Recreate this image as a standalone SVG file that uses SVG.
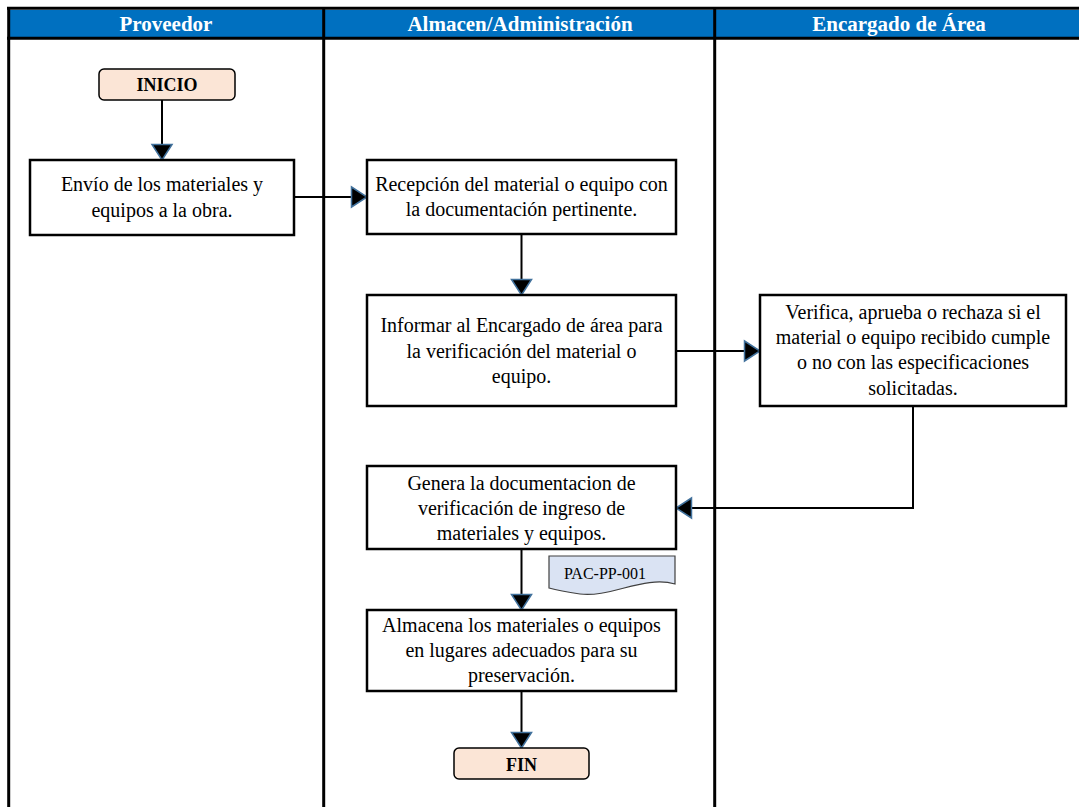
<svg xmlns="http://www.w3.org/2000/svg" width="1079" height="807" viewBox="0 0 1079 807">
<style>
.lane{stroke:#000;stroke-width:3;fill:none}
.hdr{font-family:"Liberation Serif",serif;font-weight:bold;font-size:21px;fill:#fff;text-anchor:middle}
.box{fill:#fff;stroke:#000;stroke-width:2.5}
.term{fill:#FBE5D6;stroke:#000;stroke-width:1.5}
.t{font-family:"Liberation Serif",serif;font-size:20px;fill:#000;text-anchor:middle}
.tb{font-family:"Liberation Serif",serif;font-weight:bold;font-size:18px;fill:#000;text-anchor:middle}
.c{stroke:#000;stroke-width:2;fill:none;marker-end:url(#arr)}
</style>
<defs>
<marker id="arr" markerUnits="userSpaceOnUse" viewBox="0 0 20 24" markerWidth="20" markerHeight="24" refX="17" refY="12" orient="auto">
<path d="M1.5,2 L17,12 L1.5,22 Z" fill="#000" stroke="#41719C" stroke-width="1.5"/>
</marker>
</defs>
<rect x="0" y="0" width="1079" height="807" fill="#fff"/>
<g id="header">
<rect x="8" y="10" width="1071" height="27" fill="#0070C0"/>
<line class="lane" x1="7" y1="8.3" x2="1079" y2="8.3"/>
<line class="lane" x1="7" y1="38.3" x2="1079" y2="38.3"/>
<line class="lane" x1="8.7" y1="7" x2="8.7" y2="807"/>
<line class="lane" x1="323.7" y1="7" x2="323.7" y2="807"/>
<line class="lane" x1="714.7" y1="7" x2="714.7" y2="807"/>
<text class="hdr" x="166" y="31">Proveedor</text>
<text class="hdr" x="520" y="31">Almacen/Administración</text>
<text class="hdr" x="899" y="31">Encargado de Área</text>
</g>
<g id="connectors">
<path class="c" d="M162,100 V160"/>
<path class="c" d="M294,197 H367"/>
<path class="c" d="M521.5,234 V295"/>
<path class="c" d="M676,351 H760"/>
<path class="c" d="M913,406 V508 H676"/>
<path class="c" d="M521.5,549 V610"/>
<path class="c" d="M521.5,691 V748"/>
</g>
<g id="inicio">
<rect class="term" x="99" y="69" width="136" height="31" rx="5"/>
<text class="tb" x="167" y="91">INICIO</text>
</g>
<g id="envio">
<rect class="box" x="30" y="160" width="264" height="75"/>
<text class="t" x="162" y="191">Envío de los materiales y</text>
<text class="t" x="162" y="217">equipos a la obra.</text>
</g>
<g id="recepcion">
<rect class="box" x="367" y="160" width="309" height="74"/>
<text class="t" x="521.5" y="190.5">Recepción del material o equipo con</text>
<text class="t" x="521.5" y="216">la documentación pertinente.</text>
</g>
<g id="informar">
<rect class="box" x="367" y="295" width="309" height="111"/>
<text class="t" x="521.5" y="331.5">Informar al Encargado de área para</text>
<text class="t" x="521.5" y="357.5">la verificación del material o</text>
<text class="t" x="521.5" y="383">equipo.</text>
</g>
<g id="verifica">
<rect class="box" x="760" y="295" width="306" height="111"/>
<text class="t" x="913" y="318.5">Verifica, aprueba o rechaza si el</text>
<text class="t" x="913" y="343.5">material o equipo recibido cumple</text>
<text class="t" x="913" y="369">o no con las especificaciones</text>
<text class="t" x="913" y="394.5">solicitadas.</text>
</g>
<g id="genera">
<rect class="box" x="367" y="466" width="309" height="83"/>
<text class="t" x="521.5" y="489.5">Genera la documentacion de</text>
<text class="t" x="521.5" y="515">verificación de ingreso de</text>
<text class="t" x="521.5" y="540">materiales y equipos.</text>
</g>
<g id="doc">
<path d="M549,556 H675 V584 C645,575 610,598 580,594 C566,592 556,590 549,588 Z" fill="#DAE3F3" stroke="#404040" stroke-width="1.2"/>
<text x="605" y="578.5" font-family="Liberation Serif, serif" font-size="16" text-anchor="middle" fill="#000">PAC-PP-001</text>
</g>
<g id="almacena">
<rect class="box" x="367" y="610" width="309" height="81"/>
<text class="t" x="521.5" y="631.5">Almacena los materiales o equipos</text>
<text class="t" x="521.5" y="656.5">en lugares adecuados para su</text>
<text class="t" x="521.5" y="681.5">preservación.</text>
</g>
<g id="fin">
<rect class="term" x="454" y="748" width="135" height="31" rx="5"/>
<text class="tb" x="521.5" y="771">FIN</text>
</g>
</svg>
